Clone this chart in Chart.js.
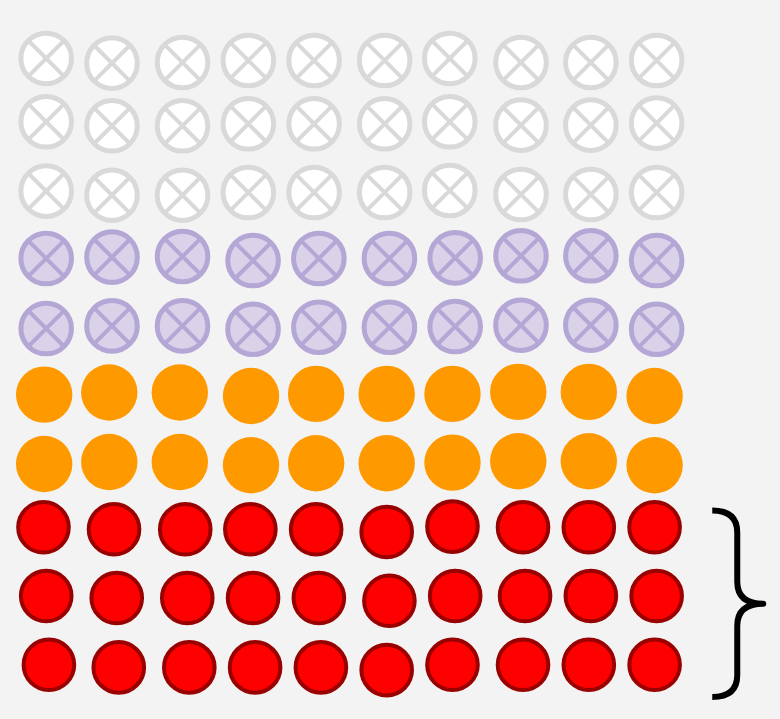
<!DOCTYPE html>
<html>
<head>
<meta charset="utf-8">
<script src="https://cdn.jsdelivr.net/npm/chart.js@4"></script>
<style>
  html, body { margin: 0; padding: 0; background: #f3f3f3; }
  #c { display: block; }
</style>
</head>
<body>
<canvas id="c" width="780" height="719"></canvas>
<script>
// ---- data (grid units: column 1..10, row 1..10 from bottom) ----
const categories = ['grey', 'lavender', 'orange', 'red'];

const greyX = [1.01,1.98,3.02,3.99,4.96,6.00,6.96,8.01,9.04,10.01,
               1.01,1.98,3.02,3.99,4.96,6.00,6.96,8.01,9.04,10.01,
               1.01,1.98,3.02,3.99,4.96,6.00,6.96,8.01,9.04,10.01];
const greyY = [10.03,9.96,9.97,10.00,10.00,10.00,10.03,9.97,9.97,10.00,
               9.09,9.03,9.03,9.06,9.06,9.06,9.09,9.04,9.04,9.07,
               8.06,8.00,8.00,8.04,8.04,8.04,8.07,8.01,8.01,8.04];

const lavenderX = [1.01,1.98,3.02,4.06,5.03,6.07,7.04,8.01,9.04,10.01,
                   1.01,1.98,3.02,4.06,5.03,6.07,7.04,8.01,9.04,10.01];
const lavenderY = [7.06,7.08,7.09,7.03,7.06,7.06,7.07,7.10,7.10,7.03,
                   6.02,6.06,6.06,6.01,6.04,6.04,6.05,6.07,6.07,6.01];

const orangeX = [0.98,1.94,2.98,4.03,4.99,6.03,7.00,7.97,9.01,9.98,
                 0.98,1.94,2.98,4.03,4.99,6.03,7.00,7.97,9.01,9.98];
const orangeY = [5.04,5.07,5.07,5.02,5.05,5.05,5.05,5.08,5.08,5.02,
                 4.01,4.04,4.04,3.99,4.02,4.02,4.03,4.05,4.05,3.99];

const redX = [0.97,2.01,3.06,4.02,4.99,6.03,7.00,8.04,9.01,9.98,
              1.01,2.05,3.09,4.06,5.03,6.07,7.04,8.07,9.04,10.01,
              1.05,2.08,3.12,4.09,5.06,6.03,7.00,8.04,9.01,9.98];
const redY = [3.07,3.04,3.04,3.04,3.04,3.00,3.08,3.07,3.07,3.07,
              2.05,2.02,2.02,2.02,2.02,1.98,2.05,2.05,2.05,2.05,
              1.03,0.99,0.99,0.99,0.99,0.95,1.03,1.03,1.03,1.03];

// brace annotation spans the red rows
const braceRows = [0.55, 3.32];
const braceCol = 10.83;

// ---- build ----
const pts = (xs, ys) => xs.map((x, i) => ({ x: x, y: ys[i] }));

const bracePlugin = {
  id: 'brace',
  afterDatasetsDraw(chart) {
    const xs = chart.scales.x, ys = chart.scales.y, ctx = chart.ctx;
    const x0 = xs.getPixelForValue(braceCol);
    const xm = x0 + 25, xt = x0 + 51;
    const yTop = ys.getPixelForValue(braceRows[1]);
    const yBot = ys.getPixelForValue(braceRows[0]);
    const yMid = (yTop + yBot) / 2;
    const r = 22;
    ctx.save();
    ctx.strokeStyle = '#000000';
    ctx.lineWidth = 6;
    ctx.lineJoin = 'round';
    ctx.beginPath();
    ctx.moveTo(x0, yTop);
    ctx.quadraticCurveTo(xm, yTop, xm, yTop + r);
    ctx.lineTo(xm, yMid - r);
    ctx.quadraticCurveTo(xm, yMid, xt, yMid);
    ctx.quadraticCurveTo(xm, yMid, xm, yMid + r);
    ctx.lineTo(xm, yBot - r);
    ctx.quadraticCurveTo(xm, yBot, x0, yBot);
    ctx.stroke();
    ctx.restore();
  }
};

new Chart(document.getElementById('c'), {
  type: 'scatter',
  data: {
    datasets: [
      { label: categories[0] + ' x', data: pts(greyX, greyY), order: 0,
        pointStyle: 'crossRot', pointRadius: 25, borderWidth: 4,
        borderColor: '#d9d9d9', backgroundColor: '#d9d9d9' },
      { label: categories[0], data: pts(greyX, greyY), order: 1,
        pointStyle: 'circle', pointRadius: 25.3, borderWidth: 5,
        borderColor: '#d9d9d9', backgroundColor: '#ffffff' },
      { label: categories[1] + ' x', data: pts(lavenderX, lavenderY), order: 0,
        pointStyle: 'crossRot', pointRadius: 25, borderWidth: 4,
        borderColor: '#b4a7d6', backgroundColor: '#b4a7d6' },
      { label: categories[1], data: pts(lavenderX, lavenderY), order: 1,
        pointStyle: 'circle', pointRadius: 25.3, borderWidth: 5,
        borderColor: '#b4a7d6', backgroundColor: '#d9d2e9' },
      { label: categories[2], data: pts(orangeX, orangeY), order: 1,
        pointStyle: 'circle', pointRadius: 28.2, borderWidth: 0,
        borderColor: '#ff9900', backgroundColor: '#ff9900' },
      { label: categories[3], data: pts(redX, redY), order: 1,
        pointStyle: 'circle', pointRadius: 25.3, borderWidth: 4,
        borderColor: '#990000', backgroundColor: '#ff0000' }
    ]
  },
  options: {
    responsive: false,
    animation: false,
    events: [],
    layout: { autoPadding: false, padding: { left: 11.6, right: 22.3, top: 26.8, bottom: 18.6 } },
    scales: {
      x: { type: 'linear', min: 0.5, max: 11.5, display: false },
      y: { type: 'linear', min: 0.5, max: 10.5, display: false }
    },
    plugins: { legend: { display: false }, tooltip: { enabled: false } },
    datasets: { scatter: { clip: false } }
  },
  plugins: [bracePlugin]
});
</script>
</body>
</html>
